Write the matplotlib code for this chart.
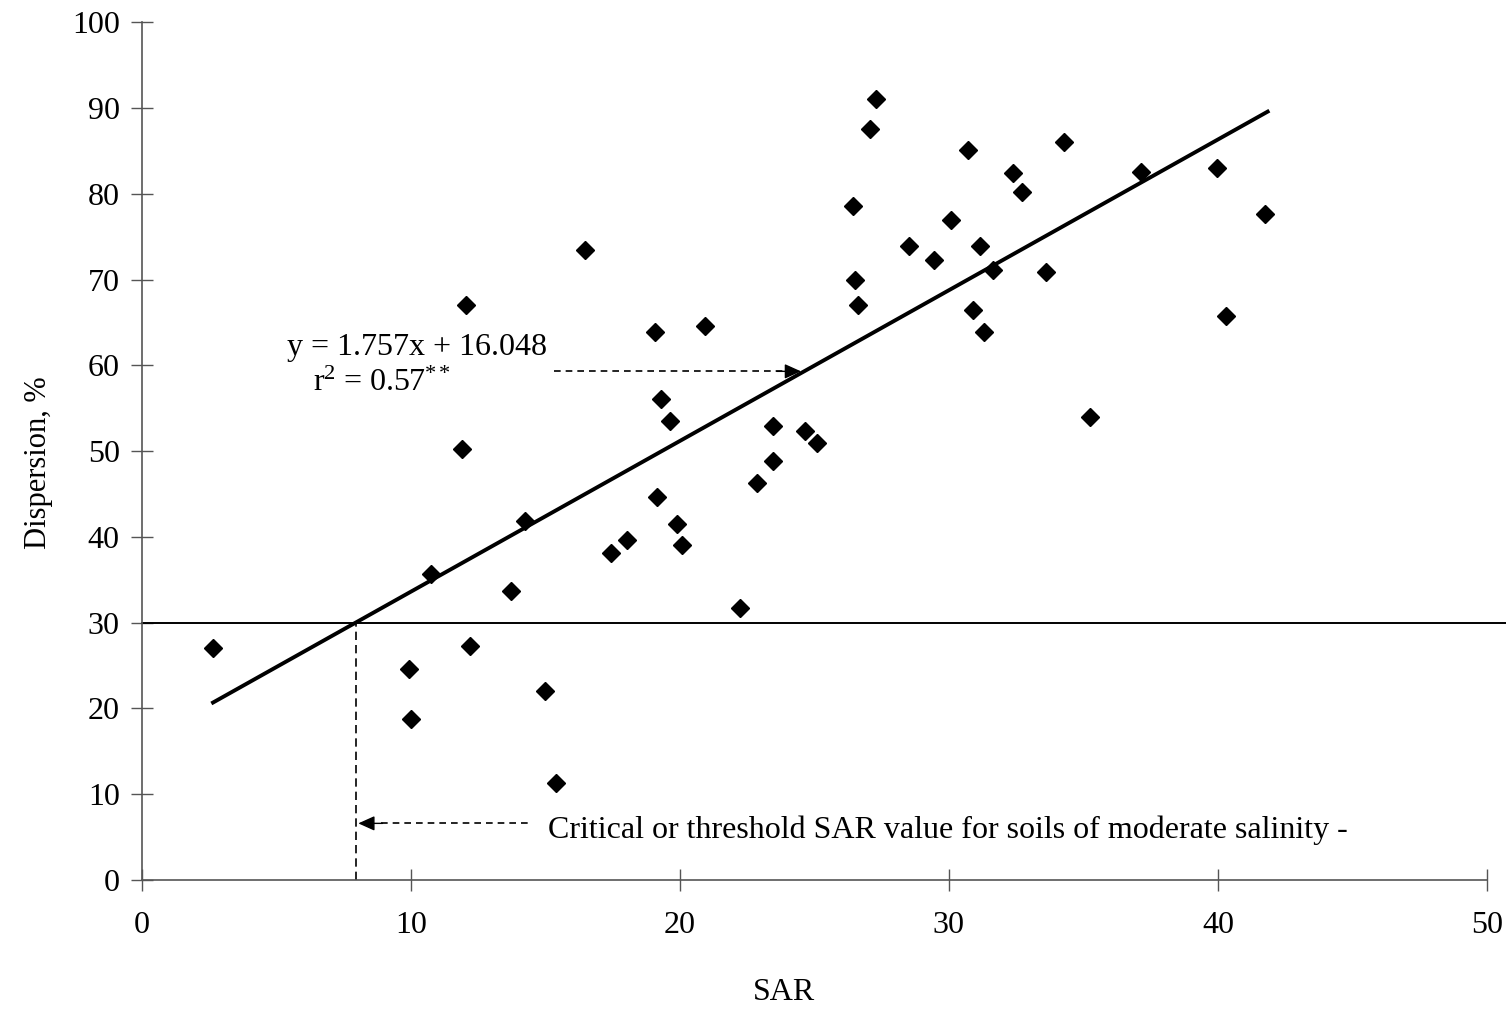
import matplotlib.pyplot as plt

# SAR vs dispersion data
sar = [2.64, 10.74, 9.93, 10.0, 11.9, 12.04, 12.19, 13.72, 14.24, 14.98,
       15.39, 16.47, 17.43, 18.03, 19.07, 19.14, 19.29, 19.63, 19.89, 20.07,
       20.93, 22.23, 22.86, 23.46, 23.46, 24.65, 25.09, 26.43, 26.51, 26.62,
       27.06, 27.29, 28.51, 29.44, 30.07, 30.71, 30.89, 31.15, 31.30, 31.64,
       32.38, 32.71, 33.61, 34.28, 35.24, 37.14, 39.96, 40.30, 41.75]
dispersion = [27.0, 35.7, 24.6, 18.8, 50.3, 67.0, 27.3, 33.7, 41.8, 22.0,
              11.3, 73.5, 38.1, 39.6, 63.9, 44.6, 56.1, 53.5, 41.5, 39.0,
              64.6, 31.7, 46.3, 52.9, 48.8, 52.4, 51.0, 78.6, 69.9, 67.0,
              87.6, 91.0, 73.9, 72.3, 76.9, 85.1, 66.4, 73.9, 63.9, 71.1,
              82.4, 80.2, 70.9, 86.0, 54.0, 82.5, 83.0, 65.7, 77.7]

slope = 1.757
intercept = 16.048
threshold = 30
fit_x = [2.64, 41.85]

plt.rcParams['font.family'] = ['Liberation Serif', 'DejaVu Serif']
plt.rcParams['mathtext.fontset'] = 'custom'
plt.rcParams['mathtext.rm'] = 'Liberation Serif'
plt.rcParams['mathtext.it'] = 'Liberation Serif'
plt.rcParams['mathtext.default'] = 'regular'

fs = 23

fig = plt.figure(figsize=(15.06, 10.11), dpi=100)
ax = fig.add_axes([0.0943, 0.1296, 0.893, 0.8484])

ax.plot(sar, dispersion, 'D', color='black', ms=9, zorder=3)
ax.plot(fit_x, [slope * v + intercept for v in fit_x], color='black', lw=2.8, zorder=2)

# threshold line runs past the end of the axis
ax.plot([0, 50.8], [threshold, threshold], color='black', lw=1.4, clip_on=False)
crit = (threshold - intercept) / slope
ax.plot([crit, crit], [0, threshold], color='black', lw=1.2, ls=(0, (5, 3)))

# dashed pointers with solid heads
ax.plot([15.3, 23.9], [59.3, 59.3], color='black', lw=1.2, ls=(0, (4, 3)))
ax.annotate('', xy=(24.5, 59.3), xytext=(23.6, 59.3),
            arrowprops=dict(arrowstyle='-|>,head_length=1.0,head_width=0.45',
                            color='black', lw=1, shrinkA=0, shrinkB=0))
ax.plot([8.9, 14.4], [6.6, 6.6], color='black', lw=1.2, ls=(0, (4, 3)))
ax.annotate('', xy=(crit + 0.1, 6.6), xytext=(crit + 1.0, 6.6),
            arrowprops=dict(arrowstyle='-|>,head_length=1.0,head_width=0.45',
                            color='black', lw=1, shrinkA=0, shrinkB=0))

ax.text(5.4, 62.1, 'y = 1.757x + 16.048', fontsize=fs, ha='left', va='center')
ax.text(6.35, 57.9, r'r$^2$ = 0.57$^{**}$', fontsize=fs, ha='left', va='center')
ax.text(15.1, 5.8, 'Critical or threshold SAR value for soils of moderate salinity -',
        fontsize=fs, ha='left', va='center')

ax.set_xlim(0, 50)
ax.set_ylim(0, 100)
ax.set_xticks(range(0, 51, 10))
ax.set_yticks(range(0, 101, 10))
for s in ['top', 'right']:
    ax.spines[s].set_visible(False)
for s in ['left', 'bottom']:
    ax.spines[s].set_color('#555555')
    ax.spines[s].set_linewidth(1.2)
ax.tick_params(direction='inout', length=16, width=1, color='#555555',
               labelsize=fs, pad=8)
ax.tick_params(axis='x', pad=14)

ax.set_xlabel('SAR', fontsize=fs)
ax.set_ylabel('Dispersion, %', fontsize=fs - 1)
ax.xaxis.set_label_coords(0.477, -0.114)
ax.yaxis.set_label_coords(-0.066, 0.487)

fig.savefig('out.png', dpi=100)
